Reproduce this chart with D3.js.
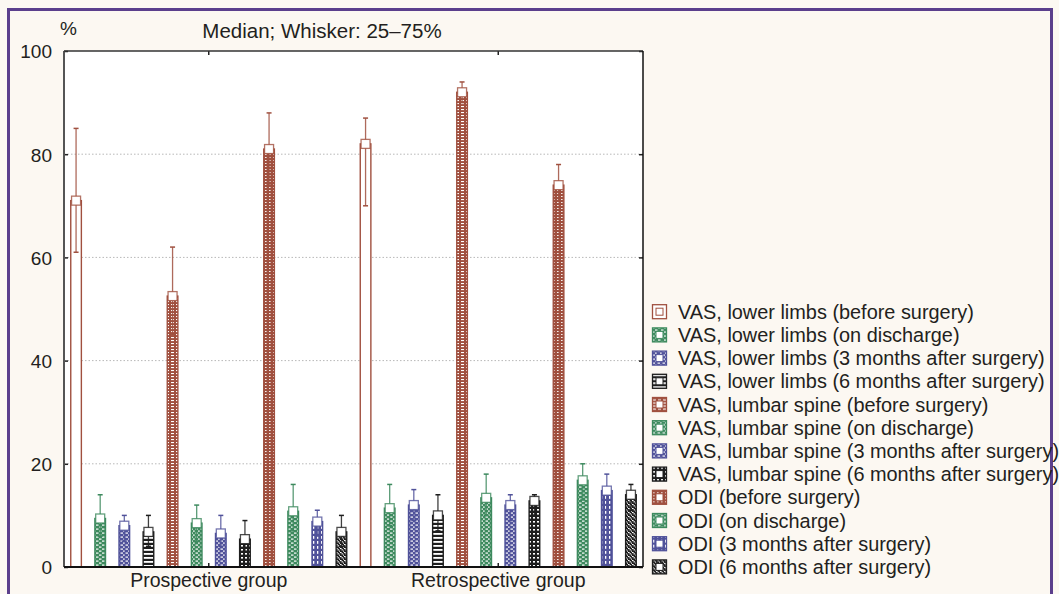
<!DOCTYPE html>
<html lang="en">
<head>
<meta charset="UTF-8">
<title>Median; Whisker: 25–75%</title>
<style>
  body { margin: 0; background: #fcf8f2; }
  svg text { font-family: "Liberation Sans", Arial, sans-serif; fill: #231f20; }
</style>
</head>
<body>
<div id="chart"></div>
<script src="https://cdn.jsdelivr.net/npm/d3@7"></script>
<script>
const WIDTH = 1059;
const HEIGHT = 594;
const PLOT = { left: 64, right: 643, top: 51, bottom: 567 };

const GROUPS = ["Prospective group", "Retrospective group"];
const SERIES = [
    "VAS, lower limbs (before surgery)",
    "VAS, lower limbs (on discharge)",
    "VAS, lower limbs (3 months after surgery)",
    "VAS, lower limbs (6 months after surgery)",
    "VAS, lumbar spine (before surgery)",
    "VAS, lumbar spine (on discharge)",
    "VAS, lumbar spine (3 months after surgery)",
    "VAS, lumbar spine (6 months after surgery)",
    "ODI (before surgery)",
    "ODI (on discharge)",
    "ODI (3 months after surgery)",
    "ODI (6 months after surgery)"
];

// medians and quartiles
const MEDIAN_PROS = [71, 9.4, 8, 6.8, 52.5, 8.5, 6.5, 5.4, 81, 10.8, 8.8, 6.8];
const Q1_PROS = [61, 6, 5, 4, 45, 5, 4, 3, 74, 7, 6, 4];
const Q3_PROS = [85, 14, 10, 10, 62, 12, 10, 9, 88, 16, 11, 10];
const MEDIAN_RETRO = [82, 11.4, 12, 10, 92, 13.4, 12, 12.8, 74, 16.8, 14.8, 14];
const Q1_RETRO = [70, 8, 9, 7, 90, 10, 9, 10, 71, 13, 11, 11];
const Q3_RETRO = [87, 16, 15, 14, 94, 18, 14, 14, 78, 20, 18, 16];

const Y_TICKS = [0, 20, 40, 60, 80, 100];
const GRID_TICKS = [20, 40, 60, 80];

const RED = "#a0503f", GREEN = "#3d8a5e", BLUE = "#50529a", BLACK = "#1e1e1e";
const COLORS = [RED, GREEN, BLUE, BLACK, RED, GREEN, BLUE, BLACK, RED, GREEN, BLUE, BLACK];
const PATTERNS = ["none", "brick", "dash", "hline", "ladder", "dash", "dash", "grid", "dense", "brick", "vdash", "diag"];

const rows = [];
GROUPS.forEach((g, gi) => {
    const med = gi === 0 ? MEDIAN_PROS : MEDIAN_RETRO;
    const q1 = gi === 0 ? Q1_PROS : Q1_RETRO;
    const q3 = gi === 0 ? Q3_PROS : Q3_RETRO;
    SERIES.forEach((s, si) => rows.push({ group: g, series: s, si, median: med[si], q1: q1[si], q3: q3[si] }));
});

const svg = d3.select("#chart").append("svg")
    .attr("width", WIDTH)
    .attr("height", HEIGHT);

// patterns
const defs = svg.append("defs");
function makePattern(id, kind, color) {
    const sizes = { brick: [6, 4], dash: [5, 4], hline: [4, 4], ladder: [5, 3], grid: [4, 4], dense: [4, 3], vdash: [4, 5], diag: [4, 4] };
    const [w, h] = sizes[kind] || [4, 4];
    const p = defs.append("pattern")
        .attr("id", id)
        .attr("patternUnits", "userSpaceOnUse")
        .attr("width", w)
        .attr("height", h);
    p.append("rect").attr("width", w).attr("height", h).attr("fill", color);
    const white = (x, y, ww, hh) => p.append("rect").attr("x", x).attr("y", y).attr("width", ww).attr("height", hh).attr("fill", "#fff");
    if (kind === "brick") { white(0, 0.5, 2.5, 1.2); white(3, 2.5, 2.5, 1.2); }
    else if (kind === "dash") { white(0.5, 0.5, 2.5, 1.2); white(3, 2.5, 1.7, 1.2); }
    else if (kind === "hline") { white(0, 1, 4, 1.8); }
    else if (kind === "ladder") { white(1, 1, 3, 1.1); }
    else if (kind === "grid") { white(1, 1, 2, 1.6); }
    else if (kind === "dense") { white(1, 1, 1.6, 0.9); }
    else if (kind === "vdash") { white(1, 1, 1.3, 2.8); }
    else if (kind === "diag") { white(0, 0, 1.6, 1.1); white(1.5, 1.3, 1.6, 1.1); white(3, 2.6, 1, 1.1); }
}
PATTERNS.forEach((k, i) => { if (k !== "none") makePattern("pat" + i, k, COLORS[i]); });
const fillFor = i => PATTERNS[i] === "none" ? "#fff" : `url(#pat${i})`;

// frame
svg.append("rect")
    .attr("x", 8.5).attr("y", 9.5)
    .attr("width", 1043).attr("height", 600)
    .attr("fill", "#fcf8f2")
    .attr("stroke", "#5b3f8c")
    .attr("stroke-width", 3);

svg.append("rect")
    .attr("x", PLOT.left).attr("y", PLOT.top)
    .attr("width", PLOT.right - PLOT.left).attr("height", PLOT.bottom - PLOT.top)
    .attr("fill", "#fff");

// scales
const y = d3.scaleLinear().domain([0, 100]).range([PLOT.bottom, PLOT.top]);
const x0 = d3.scaleBand().domain(GROUPS).range([PLOT.left, PLOT.right]);
const x1 = d3.scaleBand().domain(SERIES).range([0, x0.bandwidth()])
    .paddingInner(0.56).paddingOuter(0.28);

// grid
svg.append("g")
    .selectAll("line")
    .data(GRID_TICKS)
    .join("line")
    .attr("x1", PLOT.left).attr("x2", PLOT.right)
    .attr("y1", d => y(d)).attr("y2", d => y(d))
    .attr("stroke", "#b8b8b8")
    .attr("stroke-width", 1)
    .attr("stroke-dasharray", "1.5,2");

// bars
const bars = svg.append("g");
bars.selectAll("rect")
    .data(rows)
    .join("rect")
    .attr("x", d => x0(d.group) + x1(d.series))
    .attr("y", d => y(d.median))
    .attr("width", x1.bandwidth())
    .attr("height", d => y(0) - y(d.median))
    .attr("fill", d => fillFor(d.si))
    .attr("stroke", d => COLORS[d.si])
    .attr("stroke-width", 1.4);

// whiskers
const cx = d => x0(d.group) + x1(d.series) + x1.bandwidth() / 2;
const wk = svg.append("g");
wk.selectAll(".stem")
    .data(rows)
    .join("line")
    .attr("x1", cx).attr("x2", cx)
    .attr("y1", d => y(d.q1)).attr("y2", d => y(d.q3))
    .attr("stroke", d => COLORS[d.si])
    .attr("stroke-opacity", 0.85)
    .attr("stroke-width", 1.3);
["q1", "q3"].forEach(k => {
    wk.selectAll(".cap-" + k)
        .data(rows)
        .join("line")
        .attr("x1", d => cx(d) - 2.5).attr("x2", d => cx(d) + 2.5)
        .attr("y1", d => y(d[k])).attr("y2", d => y(d[k]))
        .attr("stroke", d => COLORS[d.si])
        .attr("stroke-width", 1.5);
});

// median markers
svg.append("g")
    .selectAll("rect")
    .data(rows)
    .join("rect")
    .attr("x", d => cx(d) - 4.5)
    .attr("y", d => y(d.median) - 4.5)
    .attr("width", 9).attr("height", 9)
    .attr("fill", "#fff")
    .attr("stroke", d => COLORS[d.si])
    .attr("stroke-opacity", 0.8)
    .attr("stroke-width", 1.3);

// axes
const tickStyle = g => {
    g.select(".domain").remove();
    g.selectAll(".tick line").attr("stroke", "#222").attr("stroke-width", 1.5);
    g.selectAll("text").attr("font-size", "19.5px").attr("fill", "#231f20");
};
svg.append("g")
    .attr("transform", `translate(${PLOT.left},0)`)
    .call(d3.axisLeft(y).tickValues(Y_TICKS).tickSize(-4).tickPadding(12))
    .call(tickStyle)
    .call(g => g.selectAll("text").attr("font-size", "19px").attr("dy", "0.36em"));
svg.append("g")
    .attr("transform", `translate(${PLOT.right},0)`)
    .call(d3.axisRight(y).tickValues(Y_TICKS).tickSize(-4).tickFormat(""))
    .call(tickStyle);
svg.append("g")
    .attr("transform", `translate(0,${PLOT.bottom})`)
    .call(d3.axisBottom(x0).tickSize(-4).tickPadding(6))
    .call(tickStyle);
svg.append("g")
    .attr("transform", `translate(0,${PLOT.top})`)
    .call(d3.axisTop(x0).tickSize(-4).tickFormat(""))
    .call(tickStyle);

// plot border
const border = svg.append("g").attr("fill", "none");
border.append("line").attr("x1", PLOT.left).attr("x2", PLOT.left).attr("y1", PLOT.top).attr("y2", PLOT.bottom)
    .attr("stroke", "#555").attr("stroke-width", 2);
border.append("line").attr("x1", PLOT.left).attr("x2", PLOT.right).attr("y1", PLOT.bottom).attr("y2", PLOT.bottom)
    .attr("stroke", "#111").attr("stroke-width", 2);
border.append("line").attr("x1", PLOT.left).attr("x2", PLOT.right).attr("y1", PLOT.top).attr("y2", PLOT.top)
    .attr("stroke", "#333").attr("stroke-width", 1.5);
border.append("line").attr("x1", PLOT.right).attr("x2", PLOT.right).attr("y1", PLOT.top).attr("y2", PLOT.bottom)
    .attr("stroke", "#111").attr("stroke-width", 1.5);

// titles
svg.append("text")
    .attr("x", 322).attr("y", 38)
    .attr("text-anchor", "middle")
    .attr("font-size", "20.5px")
    .text("Median; Whisker: 25–75%");
svg.append("text")
    .attr("x", 60).attr("y", 35)
    .attr("font-size", "19px")
    .text("%");

// legend
const legend = svg.append("g").attr("transform", "translate(652,311.7)");
const item = legend.selectAll("g")
    .data(SERIES)
    .join("g")
    .attr("transform", (d, i) => `translate(0,${i * 23.2})`);
item.append("rect")
    .attr("x", 0.5).attr("y", -7)
    .attr("width", 14).attr("height", 14)
    .attr("fill", (d, i) => fillFor(i))
    .attr("stroke", (d, i) => COLORS[i])
    .attr("stroke-width", 1.3);
item.append("rect")
    .attr("x", 4).attr("y", -3.5)
    .attr("width", 7).attr("height", 7)
    .attr("fill", "#fff")
    .attr("stroke", (d, i) => COLORS[i])
    .attr("stroke-width", 1);
item.append("text")
    .attr("x", 26).attr("y", 7)
    .attr("font-size", "19.9px")
    .text(d => d);
</script>
</body>
</html>
